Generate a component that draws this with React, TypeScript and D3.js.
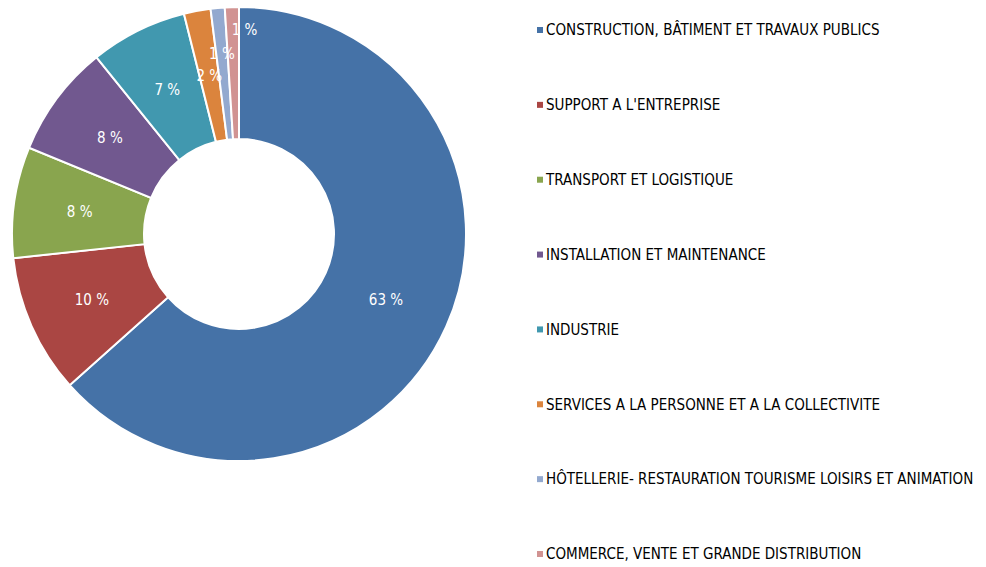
import React, { useEffect, useRef } from 'react';
import * as d3 from 'd3';

const categories = [
  'CONSTRUCTION, BÂTIMENT ET TRAVAUX PUBLICS',
  "SUPPORT A L'ENTREPRISE",
  'TRANSPORT ET LOGISTIQUE',
  'INSTALLATION ET MAINTENANCE',
  'INDUSTRIE',
  'SERVICES A LA PERSONNE ET A LA COLLECTIVITE',
  'HÔTELLERIE- RESTAURATION TOURISME LOISIRS ET ANIMATION',
  'COMMERCE, VENTE ET GRANDE DISTRIBUTION',
];
const values = [63.4, 9.9, 7.9, 8.0, 6.9, 1.9, 1.0, 1.0];
const colors = ['#4572a7', '#aa4643', '#89a54e', '#71588f', '#4198af', '#db843d', '#93a9cf', '#d19392'];

const FONT = '"DejaVu Sans Condensed", "DejaVu Sans", sans-serif';

const App = () => {
  const ref = useRef<SVGSVGElement>(null);

  useEffect(() => {
    const width = 986;
    const height = 567;
    const cx = 239;
    const cy = 234;
    const outer = 227;
    const inner = 95;
    const mid = (inner + outer) / 2;

    const svg = d3.select(ref.current);
    svg.selectAll('*').remove();

    const data = categories.map((c, i) => ({ name: c, value: values[i], color: colors[i] }));

    const pie = d3.pie<any>().value(d => d.value).sort(null);
    const arcs = pie(data);
    const arcGen = d3.arc<any>().innerRadius(inner).outerRadius(outer);

    // small slices at the top get their labels pushed outward so they don't collide
    const labelPos = (d: any) => {
      const a = (d.startAngle + d.endAngle) / 2;
      let r = mid;
      let dx = 0;
      if (d.index === 6) r = 181;
      if (d.index === 7) { r = 204; dx = 12; }
      return [Math.sin(a) * r + dx, -Math.cos(a) * r];
    };

    const g = svg.append('g').attr('transform', `translate(${cx}, ${cy})`);

    g.selectAll('.slice')
      .data(arcs)
      .join('path')
      .attr('class', 'slice')
      .attr('d', arcGen)
      .attr('fill', d => d.data.color)
      .attr('stroke', '#ffffff')
      .attr('stroke-width', 2);

    g.selectAll('.label')
      .data(arcs)
      .join('text')
      .attr('class', 'label')
      .attr('transform', d => `translate(${labelPos(d)})`)
      .attr('text-anchor', 'middle')
      .attr('dy', '0.35em')
      .attr('fill', '#ffffff')
      .attr('font-family', FONT)
      .attr('font-size', 15)
      .text(d => `${Math.round(d.data.value)} %`);

    // Legend
    const yScale = d3.scalePoint<string>().domain(categories).range([30, 554]);
    const items = svg.append('g')
      .selectAll('.item')
      .data(data)
      .join('g')
      .attr('class', 'item')
      .attr('transform', d => `translate(537, ${yScale(d.name)})`);

    items.append('rect')
      .attr('x', 0)
      .attr('y', -3)
      .attr('width', 6)
      .attr('height', 6)
      .attr('fill', d => d.color);

    items.append('text')
      .attr('x', 9)
      .attr('dy', '0.35em')
      .attr('fill', '#000000')
      .attr('font-family', FONT)
      .attr('font-size', 15)
      .text(d => d.name);

    svg.attr('width', width).attr('height', height);
  }, []);

  return (
    <div style={{ position: 'absolute', left: 0, top: 0 }}>
      <svg ref={ref} style={{ display: 'block', background: '#ffffff' }}></svg>
    </div>
  );
};

export default App;
